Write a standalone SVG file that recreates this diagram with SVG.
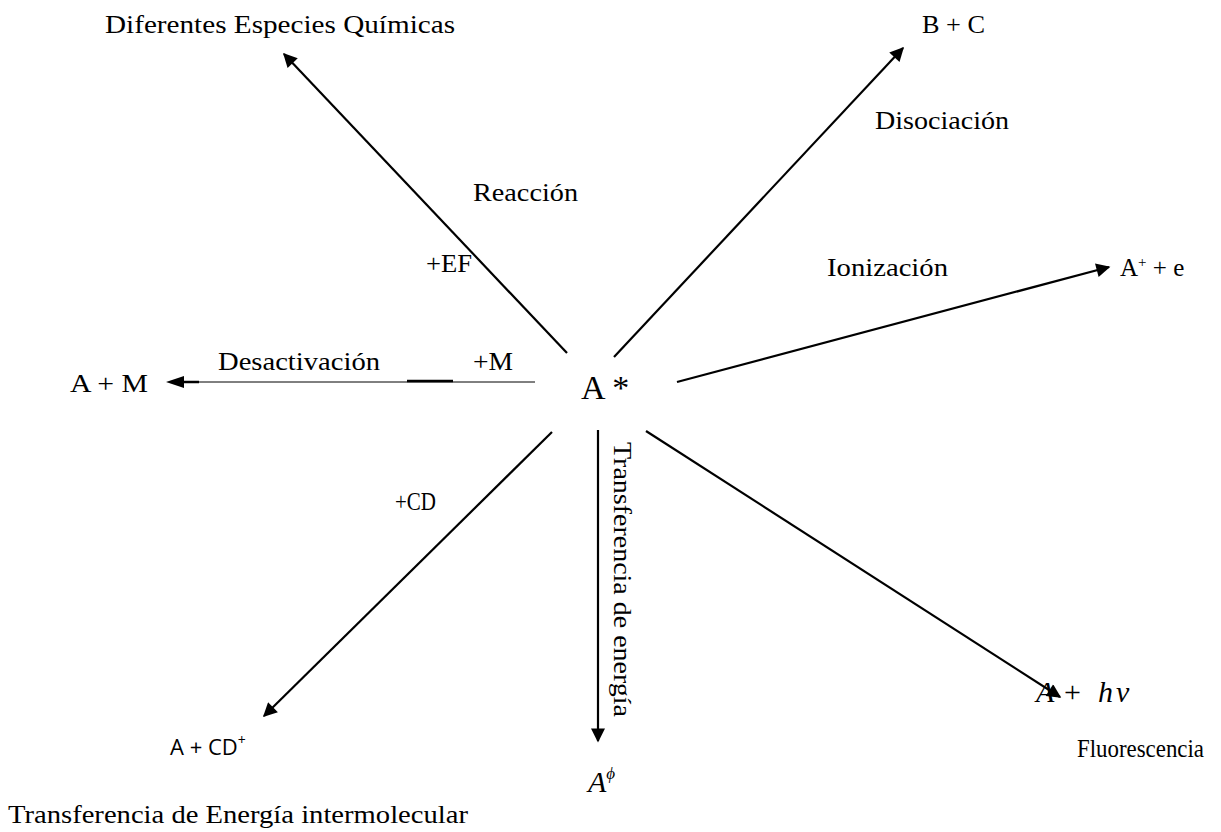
<svg xmlns="http://www.w3.org/2000/svg" width="1221" height="832" viewBox="0 0 1221 832">
<style>
.t{font-family:"Liberation Serif","DejaVu Serif",serif;font-size:25px;fill:#000}
.s{font-family:"Open Sans","Liberation Sans",sans-serif;font-size:22px;fill:#000}
.i{font-family:"Liberation Serif",serif;font-style:italic;fill:#000}
.c{stroke:#000;stroke-width:2.2;fill:none}
</style>
<defs>
<marker id="ah2" viewBox="0 0 10 10" refX="9" refY="5" markerWidth="17" markerHeight="14" markerUnits="userSpaceOnUse" orient="auto"><path d="M0,0 L10,5 L0,10 z" fill="#000"/></marker>
</defs>
<g id="connectors">
<line class="c" x1="567" y1="353" x2="284" y2="54" marker-end="url(#ah2)"/>
<line class="c" x1="614" y1="357" x2="903" y2="48" marker-end="url(#ah2)"/>
<line class="c" x1="677" y1="382" x2="1109" y2="267" marker-end="url(#ah2)"/>
<line stroke="#000" stroke-width="1" x1="535" y1="382" x2="198" y2="382"/>
<line stroke="#000" stroke-width="2.5" x1="199" y1="382" x2="182" y2="382"/>
<path d="M166,382 L184,376 L184,388 z" fill="#000"/>
<line stroke="#000" stroke-width="2.5" x1="407" y1="381" x2="453" y2="381"/>
<line class="c" x1="552" y1="432" x2="264" y2="716" marker-end="url(#ah2)"/>
<line class="c" x1="598" y1="430" x2="598" y2="741" marker-end="url(#ah2)"/>
<line class="c" x1="646" y1="431" x2="1060" y2="697" marker-end="url(#ah2)"/>
</g>
<g id="center"><text class="t" x="581" y="399" style="font-size:34px">A *</text></g>
<g id="n-especies"><text class="t" x="105" y="33" textLength="350" lengthAdjust="spacingAndGlyphs">Diferentes Especies Químicas</text></g>
<g id="n-bc"><text class="t" x="922" y="33" textLength="63" lengthAdjust="spacingAndGlyphs">B + C</text></g>
<g id="l-disociacion"><text class="t" x="875" y="129" textLength="134" lengthAdjust="spacingAndGlyphs">Disociación</text></g>
<g id="l-reaccion"><text class="t" x="473" y="201" textLength="105" lengthAdjust="spacingAndGlyphs">Reacción</text></g>
<g id="l-ef"><text class="t" x="426" y="272" textLength="46" lengthAdjust="spacingAndGlyphs">+EF</text></g>
<g id="l-ionizacion"><text class="t" x="827" y="276" textLength="121" lengthAdjust="spacingAndGlyphs">Ionización</text></g>
<g id="n-ion"><text class="t" x="1120" y="276">A<tspan font-size="15" dy="-9">+</tspan><tspan dy="9"> + e</tspan></text></g>
<g id="n-am"><text class="t" x="70" y="392" textLength="78" lengthAdjust="spacingAndGlyphs">A + M</text></g>
<g id="l-desact"><text class="t" x="218" y="370" textLength="162" lengthAdjust="spacingAndGlyphs">Desactivación</text></g>
<g id="l-m"><text class="t" x="473" y="370" textLength="40" lengthAdjust="spacingAndGlyphs">+M</text></g>
<g id="l-cd"><text class="t" x="395" y="510" textLength="41" lengthAdjust="spacingAndGlyphs">+CD</text></g>
<g id="n-acd"><text class="s" x="170" y="755">A + CD<tspan font-size="14" dy="-10">+</tspan></text></g>
<g id="n-aphi"><text class="i" x="588" y="792" font-size="30">A<tspan font-size="17" dy="-13">ϕ</tspan></text></g>
<g id="l-transf"><text class="t" transform="translate(614,442) rotate(90)" textLength="275" lengthAdjust="spacingAndGlyphs">Transferencia de energía</text></g>
<g id="n-ahv"><text class="i" x="1036" y="702" font-size="30"><tspan x="1036">A</tspan><tspan x="1064" font-style="normal">+</tspan><tspan x="1098">h</tspan><tspan x="1116">ν</tspan></text></g>
<g id="l-fluor"><text class="t" x="1077" y="757" textLength="127" lengthAdjust="spacingAndGlyphs">Fluorescencia</text></g>
<g id="l-inter"><text class="t" x="8" y="823" textLength="460" lengthAdjust="spacingAndGlyphs">Transferencia de Energía intermolecular</text></g>
</svg>
